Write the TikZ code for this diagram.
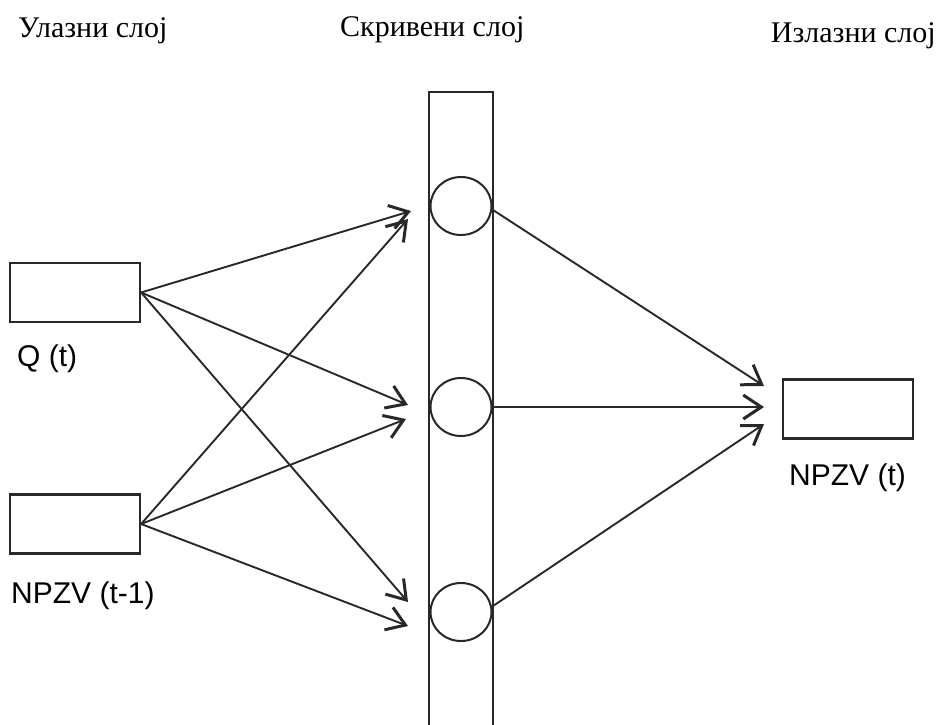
\documentclass[tikz,border=0pt]{standalone}
\usepackage{fontspec}
\setmainfont{Liberation Serif}
\newfontfamily\labfont{Liberation Sans}
\usetikzlibrary{arrows.meta,shapes.geometric}
\definecolor{ln}{RGB}{40,40,40}
\begin{document}
\begin{tikzpicture}[x=1pt,y=-1pt,
  box/.style={draw=ln,line width=2.2pt,minimum width=130pt,minimum height=59pt,inner sep=0pt},
  neuron/.style={draw=ln,line width=2pt,ellipse,minimum width=61pt,minimum height=58pt,inner sep=0pt},
  conn/.style={draw=ln,line width=1.9pt,-{Straight Barb[length=18pt,width=24pt,line width=3pt]}},
  title/.style={font=\fontsize{30}{34}\selectfont,inner sep=0pt},
  lab/.style={font=\labfont\fontsize{30}{34}\selectfont,anchor=base west,inner sep=0pt}]
\useasboundingbox (0,0) rectangle (939,724);
% titles
\node[title,anchor=base west] (t1) at (18,37) {Улазни слој};
\node[title,anchor=base west] (t2) at (340,36) {Скривени слој};
\node[title,anchor=base east] (t3) at (936,42) {Излазни слој};
% hidden column
\draw[ln,line width=2.2pt] (429,726) -- (429,92) -- (493,92) -- (493,726);
% input boxes
\node[box] (i1) at (75,292.5) {};
\node[box] (i2) at (75,524) {};
\node[lab] (l1) at (17,366) {Q (t)};
\node[lab] (l2) at (11,603) {NPZV (t-1)};
% hidden neurons
\node[neuron] (h1) at (461,206) {};
\node[neuron] (h2) at (461,407) {};
\node[neuron] (h3) at (461,612) {};
% output
\node[box] (o) at (848,409) {};
\node[lab] (l3) at (789,485) {NPZV (t)};
% arrow end coordinates
\coordinate (a11) at (411,211);
\coordinate (a21) at (408,219);
\coordinate (a12) at (408,405);
\coordinate (a22) at (406,419);
\coordinate (a13) at (408,602);
\coordinate (a23) at (408,626);
\coordinate (b1) at (764,386);
\coordinate (b2) at (764,407);
\coordinate (b3) at (764,424);
\coordinate (s1) at (493,210);
\coordinate (s2) at (493,407);
\coordinate (s3) at (493,606);
% connectors
\draw[conn] (i1.east) -- (a11);
\draw[conn] (i1.east) -- (a12);
\draw[conn] (i1.east) -- (a13);
\draw[conn] (i2.east) -- (a21);
\draw[conn] (i2.east) -- (a22);
\draw[conn] (i2.east) -- (a23);
\draw[conn] (s1) -- (b1);
\draw[conn] (s2) -- (b2);
\draw[conn] (s3) -- (b3);
\end{tikzpicture}
\end{document}
